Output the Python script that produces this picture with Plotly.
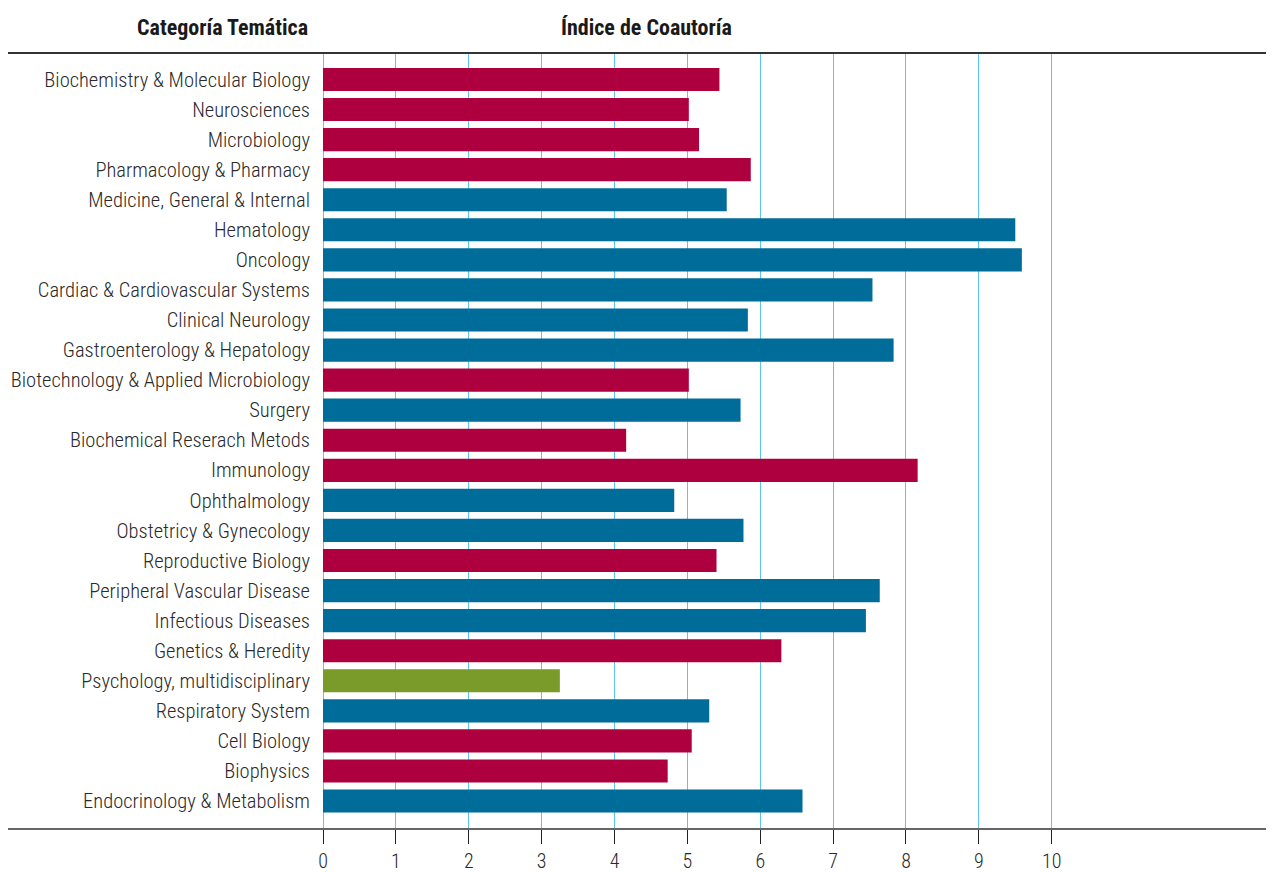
import plotly.graph_objects as go

categories = [
    "Biochemistry & Molecular Biology", "Neurosciences", "Microbiology",
    "Pharmacology & Pharmacy", "Medicine, General & Internal", "Hematology",
    "Oncology", "Cardiac & Cardiovascular Systems", "Clinical Neurology",
    "Gastroenterology & Hepatology", "Biotechnology & Applied Microbiology",
    "Surgery", "Biochemical Reserach Metods", "Immunology", "Ophthalmology",
    "Obstetricy & Gynecology", "Reproductive Biology", "Peripheral Vascular Disease",
    "Infectious Diseases", "Genetics & Heredity", "Psychology, multidisciplinary",
    "Respiratory System", "Cell Biology", "Biophysics", "Endocrinology & Metabolism",
]
values = [5.44, 5.02, 5.16, 5.87, 5.54, 9.50, 9.59, 7.54, 5.83, 7.83, 5.02, 5.73,
          4.16, 8.16, 4.82, 5.77, 5.40, 7.64, 7.45, 6.29, 3.25, 5.30, 5.06, 4.73, 6.58]
groups = ["basic", "basic", "basic", "basic", "clinical", "clinical", "clinical",
          "clinical", "clinical", "clinical", "basic", "clinical", "basic", "basic",
          "clinical", "clinical", "basic", "clinical", "clinical", "basic", "social",
          "clinical", "basic", "basic", "clinical"]
group_colors = {"basic": "#AE003F", "clinical": "#006C9A", "social": "#7A9A2A"}
x_ticks = list(range(0, 11))

font_family = "Roboto Condensed, DejaVu Sans Condensed, Liberation Sans Narrow, Roboto"

W, H = 1266, 864
ML, MR, MT, MB = 315, 0, 45, 43
plot_w = W - ML - MR

fig = go.Figure(go.Bar(
    y=categories, x=values, orientation="h",
    marker=dict(color=[group_colors[g] for g in groups], line=dict(width=0)),
    width=0.77,
    hoverinfo="x+y",
))

fig.update_layout(
    width=W, height=H,
    margin=dict(l=ML, r=MR, t=MT, b=MB, autoexpand=False),
    paper_bgcolor="white", plot_bgcolor="white",
    showlegend=False,
    font=dict(family=font_family, color="#2a2a2a", size=20),
    xaxis=dict(
        range=[0, 13.05], tickvals=x_ticks, ticktext=[str(t) for t in x_ticks],
        showgrid=True, gridcolor="#5cc6ee", gridwidth=1,
        zeroline=True, zerolinecolor="#5cc6ee", zerolinewidth=1,
        ticks="outside", ticklen=14, tickcolor="#222", tickwidth=1,
        showline=False, tickfont=dict(size=20, color="#2a2a2a", weight=300),
        ticklabelstandoff=0, automargin=False,
        fixedrange=True,
    ),
    yaxis=dict(
        categoryorder="array", categoryarray=categories,
        range=[len(categories) - 1 + 0.93, -0.88],
        showgrid=False, zeroline=False, showline=False, ticks="",
        ticklabelstandoff=12, automargin=False,
        tickfont=dict(size=20.5, color="#2a2a2a", weight=300),
        fixedrange=True,
    ),
    shapes=[
        dict(type="line", xref="paper", yref="paper", x0=-ML / plot_w, x1=1, y0=1, y1=1,
             line=dict(color="#333333", width=2)),
        dict(type="line", xref="paper", yref="paper", x0=-ML / plot_w, x1=1, y0=0, y1=0,
             line=dict(color="#666666", width=2)),
    ],
    annotations=[
        dict(text="<b>Categoría Temática</b>", xref="paper", yref="paper",
             x=-101 / plot_w, y=1, yshift=26, xanchor="center", yanchor="middle",
             showarrow=False, font=dict(size=22, color="#1a1a1a", family=font_family)),
        dict(text="<b>Índice de Coautoría</b>", x=4.44, xref="x", yref="paper",
             y=1, yshift=26, xanchor="center", yanchor="middle",
             showarrow=False, font=dict(size=22, color="#1a1a1a", family=font_family)),
    ],
)

fig.write_html("out.html")
